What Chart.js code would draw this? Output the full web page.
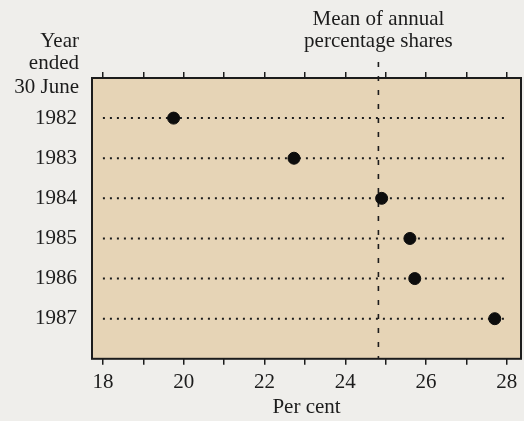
<!DOCTYPE html>
<html>
<head>
<meta charset="utf-8">
<script src="https://cdn.jsdelivr.net/npm/chart.js@4/dist/chart.umd.min.js"></script>
<style>
html,body{margin:0;padding:0;background:#efeeeb;}
#wrap{width:524px;height:421px;position:relative;}
</style>
</head>
<body>
<div id="wrap"><canvas id="c" width="524" height="421"></canvas></div>
<script>
// ---- data ----
const years = ['1982', '1983', '1984', '1985', '1986', '1987'];
const shares = [19.75, 22.73, 24.9, 25.6, 25.72, 27.7];
const meanShare = 24.82;
const xTicks = [18, 19, 20, 21, 22, 23, 24, 25, 26, 27, 28];
const yLabelLines = ['Year', 'ended', '30 June'];
const meanLabelLines = ['Mean of annual', 'percentage shares'];
const xTitle = 'Per cent';

// ---- style ----
const FONT = '"Liberation Serif", "Times New Roman", serif';
const INK = '#1c1c1c';
const PANEL = '#e6d4b6';

const rowDatasets = years.map((y, i) => ({
  type: 'line',
  data: [{x: xTicks[0], y: i + 1}, {x: xTicks[xTicks.length - 1], y: i + 1}],
  borderColor: INK,
  borderWidth: 2,
  borderDash: [2, 5],
  pointRadius: 0,
  fill: false
}));

const meanDataset = {
  type: 'line',
  data: [{x: meanShare, y: -0.4}, {x: meanShare, y: 7}],
  borderColor: INK,
  borderWidth: 1.6,
  borderDash: [5, 9],
  pointRadius: 0,
  fill: false,
  clip: false
};

const pointDataset = {
  type: 'scatter',
  data: shares.map((v, i) => ({x: v, y: i + 1})),
  backgroundColor: '#0d0d0d',
  borderColor: '#0d0d0d',
  pointRadius: 6,
  pointHoverRadius: 6
};

const decor = {
  id: 'decor',
  beforeDatasetsDraw(chart) {
    const {ctx, chartArea: a} = chart;
    ctx.save();
    ctx.fillStyle = PANEL;
    ctx.fillRect(a.left, a.top, a.right - a.left, a.bottom - a.top);
    ctx.restore();
  },
  afterDraw(chart) {
    const {ctx, chartArea: a, scales} = chart;
    ctx.save();
    ctx.strokeStyle = INK;
    ctx.lineWidth = 2;
    ctx.strokeRect(a.left, a.top, a.right - a.left, a.bottom - a.top);
    ctx.fillStyle = INK;
    ctx.font = '21px ' + FONT;
    ctx.textBaseline = 'alphabetic';
    ctx.textAlign = 'right';
    const yb = [47, 69, 93];
    yLabelLines.forEach((t, i) => ctx.fillText(t, 79, yb[i]));
    ctx.textAlign = 'center';
    const mx = scales.x.getPixelForValue(meanShare);
    const mb = [25, 47];
    meanLabelLines.forEach((t, i) => ctx.fillText(t, mx, mb[i]));
    ctx.restore();
  }
};

const noSidePad = s => { s.paddingRight = 0; s.paddingLeft = 0; };

new Chart(document.getElementById('c'), {
  data: {datasets: [pointDataset, meanDataset, ...rowDatasets]},
  options: {
    responsive: false,
    animation: false,
    devicePixelRatio: 1,
    layout: {autoPadding: false, padding: {top: 72, right: 3, bottom: 0, left: 0}},
    plugins: {legend: {display: false}, tooltip: {enabled: false}},
    scales: {
      x: {
        type: 'linear', position: 'bottom',
        min: 17.73, max: 28.35,
        afterBuildTicks: s => { s.ticks = xTicks.map(v => ({value: v})); },
        afterFit: noSidePad,
        ticks: {
          callback: v => (v % 2 === 0 ? String(v) : ''),
          font: {family: FONT, size: 21}, color: INK,
          padding: 5, maxRotation: 0, autoSkip: false
        },
        grid: {drawOnChartArea: false, drawTicks: true, tickLength: 6, color: INK, lineWidth: 1.5},
        border: {display: false},
        title: {display: true, text: xTitle, font: {family: FONT, size: 21, lineHeight: 1.0}, color: INK, padding: {top: -3, bottom: 3}}
      },
      x2: {
        type: 'linear', position: 'top', axis: 'x',
        min: 17.73, max: 28.35,
        afterBuildTicks: s => { s.ticks = xTicks.map(v => ({value: v})); },
        afterFit: noSidePad,
        ticks: {display: false},
        grid: {drawOnChartArea: false, drawTicks: true, tickLength: 6, color: INK, lineWidth: 1.5},
        border: {display: false}
      },
      y: {
        type: 'linear', position: 'left', reverse: true,
        min: 0, max: 7,
        afterBuildTicks: s => { s.ticks = years.map((y, i) => ({value: i + 1})); },
        afterFit: s => { s.width = 92; },
        ticks: {
          callback: v => years[v - 1] || '',
          font: {family: FONT, size: 21}, color: INK, padding: 15, autoSkip: false
        },
        grid: {display: false, drawTicks: false},
        border: {display: false}
      }
    }
  },
  plugins: [decor]
});
</script>
</body>
</html>
